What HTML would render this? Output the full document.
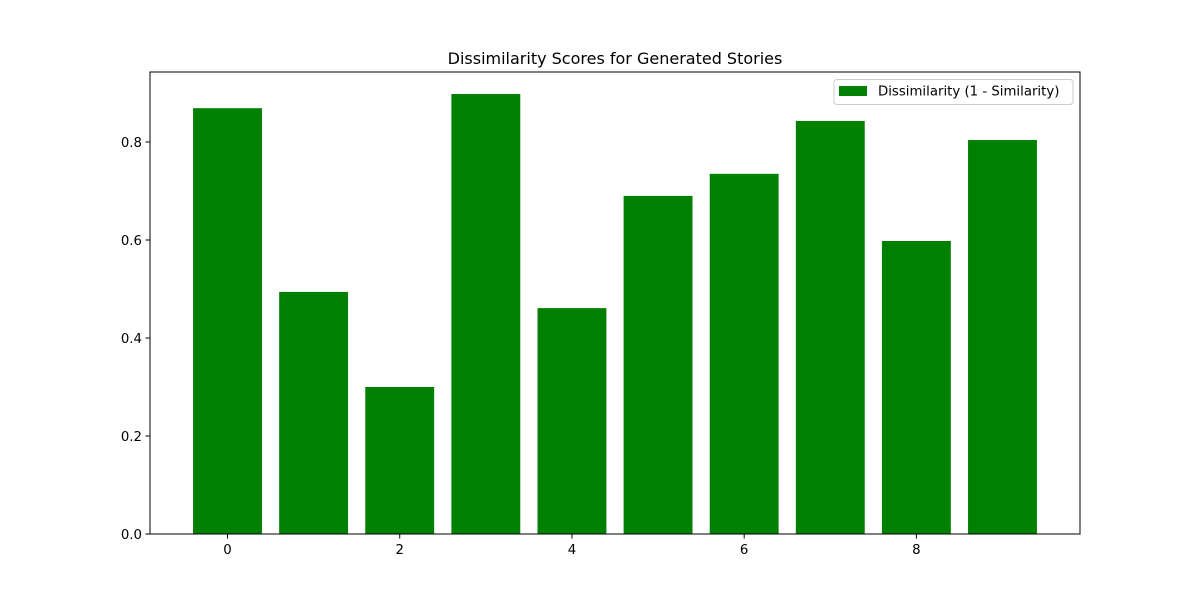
<!DOCTYPE html>
<html><head><meta charset="utf-8"><style>
html,body{margin:0;padding:0;background:#fff;}
svg text{font-family:"DejaVu Sans","Liberation Sans",sans-serif;}
</style></head><body>
<svg id="chart" width="1200" height="600" xmlns="http://www.w3.org/2000/svg">
<rect width="1200" height="600" fill="#fff"/>
<text x="615" y="64" font-size="16" text-anchor="middle" fill="#000">Dissimilarity Scores for Generated Stories</text>
<g id="bars"></g>
<g id="axes"></g>
<rect x="150" y="72" width="930" height="462" fill="none" stroke="#000" stroke-width="1"/>
<g>
<rect x="834" y="79.5" width="239" height="25" rx="3" fill="#fff" fill-opacity="0.8" stroke="#ccc"/>
<rect x="839" y="86" width="28" height="10" fill="green"/>
<text x="878" y="95.5" font-size="13.3" fill="#000">Dissimilarity (1 - Similarity)</text>
</g>
</svg>
<script>
const categories = [0,1,2,3,4,5,6,7,8,9];
const values = [0.869,0.494,0.300,0.898,0.461,0.690,0.735,0.843,0.598,0.804];
const xTicks = [0,2,4,6,8];
const yTicks = [0.0,0.2,0.4,0.6,0.8];
const ns="http://www.w3.org/2000/svg";
const X0=150,X1=1080,Y0=534,Y1=72;
const xMin=-0.9,xMax=9.9,yMin=0,yMax=(534-72)/490;
const xs=v=>X0+(v-xMin)/(xMax-xMin)*(X1-X0);
const ys=v=>Y0-(v-yMin)/(yMax-yMin)*(Y0-Y1);
const bars=document.getElementById('bars'),axes=document.getElementById('axes');
categories.forEach((c,i)=>{
  const r=document.createElementNS(ns,'rect');
  const l=xs(c-0.4),rr=xs(c+0.4);
  r.setAttribute('x',l);r.setAttribute('width',rr-l);
  r.setAttribute('y',ys(values[i]));r.setAttribute('height',ys(0)-ys(values[i]));
  r.setAttribute('fill','green');
  
  
  bars.appendChild(r);
});
xTicks.forEach(t=>{
  const x=xs(t);
  const l=document.createElementNS(ns,'line');
  l.setAttribute('x1',x);l.setAttribute('x2',x);l.setAttribute('y1',Y0);l.setAttribute('y2',Y0+4.5);l.setAttribute('stroke','#000');
  
  
  axes.appendChild(l);
  const tx=document.createElementNS(ns,'text');
  tx.setAttribute('x',x);tx.setAttribute('y',Y0+20);tx.setAttribute('font-size','13.3');tx.setAttribute('text-anchor','middle');
  tx.textContent=t;
  
  
  axes.appendChild(tx);
});
yTicks.forEach(t=>{
  const y=ys(t);
  const l=document.createElementNS(ns,'line');
  l.setAttribute('x1',X0-4.5);l.setAttribute('x2',X0);l.setAttribute('y1',y);l.setAttribute('y2',y);l.setAttribute('stroke','#000');
  
  
  axes.appendChild(l);
  const tx=document.createElementNS(ns,'text');
  tx.setAttribute('x',X0-8);tx.setAttribute('y',y+5);tx.setAttribute('font-size','13.3');tx.setAttribute('text-anchor','end');
  tx.textContent=t.toFixed(1);
  
  
  axes.appendChild(tx);
});
</script>
</body></html>
